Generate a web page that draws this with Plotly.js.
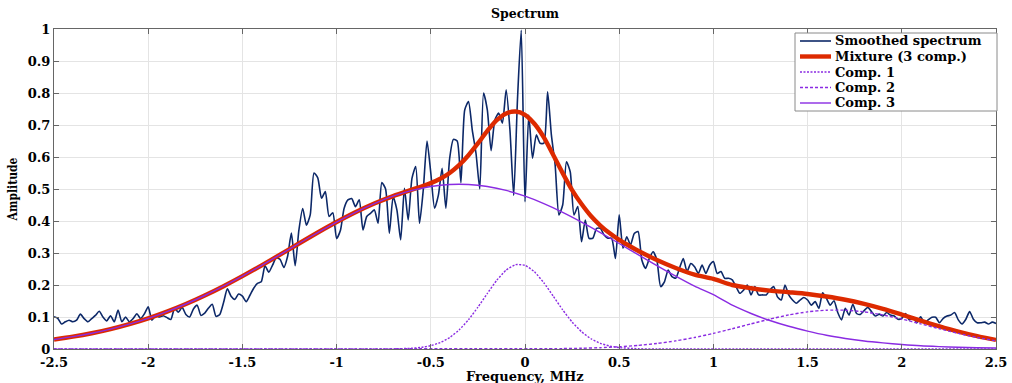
<!DOCTYPE html>
<html>
<head>
<meta charset="utf-8">
<script src="https://cdn.plot.ly/plotly-3.0.1.min.js"></script>
<style>html,body{margin:0;padding:0;background:#fff}#chart{width:1012px;height:383px}</style>
</head>
<body>
<div id="chart"></div>
<script>
// Smoothed spectrum: sampled every 0.02 MHz from -2.5 to 2.5
const specStart = -2.5;
const specStep = 0.02;
const spectrumAmp = [
0.101,0.096,0.078,0.085,0.090,0.085,0.090,0.109,0.095,0.085,
0.095,0.105,0.118,0.100,0.088,0.104,0.085,0.122,0.085,0.100,
0.085,0.095,0.110,0.095,0.110,0.132,0.090,0.105,0.100,0.104,
0.098,0.092,0.127,0.115,0.130,0.108,0.100,0.125,0.137,0.105,
0.112,0.128,0.140,0.102,0.108,0.145,0.188,0.165,0.155,0.172,
0.165,0.148,0.168,0.190,0.205,0.210,0.260,0.240,0.262,0.285,
0.280,0.255,0.290,0.362,0.260,0.372,0.439,0.387,0.419,0.550,
0.535,0.471,0.492,0.414,0.426,0.345,0.370,0.440,0.466,0.470,
0.445,0.466,0.372,0.414,0.424,0.435,0.393,0.520,0.500,0.362,
0.476,0.435,0.341,0.502,0.403,0.533,0.570,0.393,0.497,0.650,
0.550,0.440,0.480,0.565,0.440,0.595,0.655,0.650,0.520,0.747,
0.773,0.685,0.611,0.500,0.800,0.747,0.620,0.716,0.737,0.706,
0.810,0.685,0.480,0.778,0.996,0.460,0.731,0.596,0.669,0.643,
0.643,0.804,0.669,0.575,0.419,0.450,0.585,0.554,0.419,0.445,
0.335,0.403,0.346,0.346,0.377,0.377,0.356,0.346,0.346,0.283,
0.419,0.315,0.351,0.325,0.361,0.367,0.278,0.252,0.283,0.304,
0.278,0.195,0.210,0.247,0.226,0.221,0.252,0.283,0.242,0.267,
0.257,0.236,0.262,0.236,0.262,0.273,0.236,0.242,0.221,0.221,
0.216,0.195,0.174,0.184,0.200,0.169,0.195,0.169,0.169,0.169,
0.184,0.195,0.163,0.153,0.200,0.169,0.153,0.143,0.153,0.161,
0.153,0.137,0.148,0.127,0.176,0.158,0.137,0.151,0.114,0.091,
0.127,0.106,0.140,0.111,0.108,0.120,0.130,0.116,0.103,0.109,
0.103,0.114,0.106,0.103,0.093,0.096,0.111,0.091,0.101,0.082,
0.101,0.082,0.091,0.099,0.099,0.082,0.096,0.103,0.106,0.114,
0.091,0.078,0.093,0.117,0.093,0.082,0.082,0.084,0.078,0.084,
0.080
];
const spectrumFreq = spectrumAmp.map((_, i) => +(specStart + i * specStep).toFixed(2));

// Mixture (3 components)
const mixFreq = [
-2.5,-2.4,-2.3,-2.2,-2.1,-2.0,-1.9,-1.8,-1.7,-1.6,-1.5,-1.4,-1.3,-1.2,-1.1,-1.0,-0.9,-0.8,-0.7,-0.6,
-0.55,-0.5,-0.45,-0.4,-0.35,-0.3,-0.25,-0.2,-0.15,-0.1,-0.05,0,0.05,0.1,0.15,0.2,0.25,0.3,0.35,0.4,0.45,0.5,0.55,
0.6,0.7,0.8,0.9,1.0,1.1,1.2,1.3,1.4,1.5,1.6,1.7,1.8,1.9,2.0,2.1,2.2,2.3,2.4,2.5
];
const mixAmp = [
0.0297,0.0385,0.0492,0.0623,0.0778,0.0959,0.1169,0.1406,0.1672,0.1963,0.2276,0.2607,0.2950,0.3297,0.3640,0.3968,0.4273,0.4545,0.4779,0.4978,
0.5075,0.5184,0.5319,0.5501,0.5744,0.6056,0.6425,0.6816,0.7150,0.7360,0.7420,0.7320,0.7040,0.6615,0.6065,0.5497,0.4967,0.4531,0.4157,0.3859,0.3615,0.3410,0.3234,
0.3070,0.2780,0.2530,0.2323,0.2190,0.2000,0.1900,0.1825,0.1775,0.1720,0.1640,0.1540,0.1410,0.1255,0.1075,0.0886,0.0708,0.0543,0.0400,0.0284
];

// Comp. 1
const comp1Freq = [-2.5,-0.8,-0.7,-0.6,-0.55,-0.5,-0.45,-0.4,-0.35,-0.3,-0.25,-0.2,-0.15,-0.1,-0.05,0,0.05,0.1,0.15,0.2,0.25,0.3,0.35,0.4,0.45,0.5,0.6,0.7,2.5];
const comp1Amp  = [0,0.0001,0.0004,0.0023,0.0051,0.0105,0.0201,0.0359,0.0594,0.0914,0.1307,0.1737,0.2147,0.2467,0.2635,0.2615,0.2413,0.2070,0.1651,0.1224,0.0843,0.0540,0.0321,0.0178,0.0092,0.0044,0.0008,0.0001,0];

// Comp. 2
const comp2Freq = [-2.5,0.2,0.3,0.4,0.5,0.6,0.7,0.8,0.9,1.0,1.1,1.2,1.3,1.4,1.5,1.6,1.7,1.8,1.9,2.0,2.1,2.2,2.3,2.4,2.5];
const comp2Amp  = [0,0.0013,0.0023,0.0041,0.0069,0.0112,0.0172,0.0254,0.0360,0.0488,0.0633,0.0786,0.0935,0.1065,0.1162,0.1213,0.1213,0.1162,0.1065,0.0935,0.0786,0.0633,0.0488,0.0360,0.0254];

// Comp. 3
const comp3Freq = [-2.5,-2.4,-2.3,-2.2,-2.1,-2.0,-1.9,-1.8,-1.7,-1.6,-1.5,-1.4,-1.3,-1.2,-1.1,-1.0,-0.9,-0.8,-0.7,-0.6,-0.5,-0.4,-0.3,-0.2,-0.1,0,0.1,0.2,0.3,0.4,0.5,0.6,0.7,0.8,0.9,1.0,1.1,1.2,1.3,1.4,1.5,1.6,1.7,1.8,1.9,2.0,2.1,2.2,2.3,2.4,2.5];
const comp3Amp  = [
0.0297,0.0385,0.0492,0.0623,0.0778,0.0959,0.1169,0.1406,0.1672,0.1963,
0.2276,0.2607,0.2950,0.3297,0.3640,0.3968,0.4273,0.4545,0.4775,0.4955,
0.5079,0.5142,0.5142,0.5079,0.4955,0.4775,0.4545,0.4273,0.3968,0.3640,
0.3297,0.2950,0.2607,0.2276,0.1963,0.1700,0.1370,0.1110,0.0890,0.0710,
0.0560,0.0430,0.0330,0.0250,0.0190,0.0140,0.0100,0.0075,0.0055,0.0040,
0.0030
];

const xTickVals = [-2.5,-2,-1.5,-1,-0.5,0,0.5,1,1.5,2,2.5];
const xTickText = ['-2.5','-2','-1.5','-1','-0.5','0','0.5','1','1.5','2','2.5'];
const yTickVals = [0,0.1,0.2,0.3,0.4,0.5,0.6,0.7,0.8,0.9,1];
const yTickText = ['0','0.1','0.2','0.3','0.4','0.5','0.6','0.7','0.8','0.9','1'];

const seriesNames = ['Smoothed spectrum', 'Mixture (3 comp.)', 'Comp. 1', 'Comp. 2', 'Comp. 3'];

const serif = 'DejaVu Serif, Liberation Serif, serif';
const purple = '#8a2be2';
const seriesStyles = [
  {color: '#0c2868', width: 1.6, shape: 'spline', smoothing: 0.6},
  {color: '#dd2a00', width: 4.4, shape: 'spline', smoothing: 0.8},
  {color: purple, width: 1.4, dash: '2px,1.5px', shape: 'spline', smoothing: 0.5},
  {color: purple, width: 1.4, dash: '3px,2px', shape: 'spline', smoothing: 0.5},
  {color: purple, width: 1.4, shape: 'spline', smoothing: 0.8}
];
const seriesX = [spectrumFreq, mixFreq, comp1Freq, comp2Freq, comp3Freq];
const seriesY = [spectrumAmp, mixAmp, comp1Amp, comp2Amp, comp3Amp];

const traces = seriesNames.map((name, k) => ({
  x: seriesX[k], y: seriesY[k], type: 'scatter', mode: 'lines', name: name,
  line: seriesStyles[k], showlegend: false
}));

// Plot-area geometry (for the hand-built legend, in paper fractions)
const PL = 54, PR = 996, PT = 29, PB = 349;
const px2x = p => (p - PL) / (PR - PL);
const py2y = p => (PB - p) / (PB - PT);

const legendRows = [41, 56.5, 72, 87.5, 103];
const shapes = [{
  type: 'rect', xref: 'paper', yref: 'paper',
  x0: px2x(795), x1: px2x(997), y0: py2y(111), y1: py2y(33),
  fillcolor: '#fff', line: {color: '#8a8a8a', width: 1}, layer: 'above'
}];
const annotations = [];
seriesNames.forEach((name, k) => {
  const st = seriesStyles[k];
  shapes.push({
    type: 'line', xref: 'paper', yref: 'paper',
    x0: px2x(800), x1: px2x(831), y0: py2y(legendRows[k]), y1: py2y(legendRows[k]),
    line: {color: st.color, width: st.width, dash: st.dash || 'solid'}, layer: 'above'
  });
  annotations.push({
    xref: 'paper', yref: 'paper', x: px2x(833), y: py2y(legendRows[k]),
    xanchor: 'left', yanchor: 'middle', showarrow: false, text: name,
    font: {family: serif, size: 13, color: '#000', weight: 'bold'}
  });
});
// x-axis title placed just below the tick labels
annotations.push({
  xref: 'paper', yref: 'paper', x: 0.5, y: py2y(376), xanchor: 'center', yanchor: 'middle',
  showarrow: false, text: 'Frequency, MHz', borderpad: 0,
  font: {family: serif, size: 13, color: '#000', weight: 'bold'}
});

const axisCommon = {
  showline: true, linecolor: '#666', linewidth: 1, mirror: 'ticks',
  ticks: 'inside', ticklen: 5, tickcolor: '#666', tickwidth: 1,
  showgrid: true, gridcolor: '#e4e4e4', gridwidth: 1, zeroline: false,
  tickfont: {family: serif, size: 13, color: '#000', weight: 'bold'}
};

const layout = {
  width: 1012, height: 383,
  margin: {l: 54, r: 16, t: 29, b: 34},
  paper_bgcolor: '#fff', plot_bgcolor: '#fff',
  showlegend: false,
  title: {text: 'Spectrum', font: {family: serif, size: 12.5, color: '#000', weight: 'bold'},
          x: 0.5, xref: 'paper', xanchor: 'center', y: 1 - 14/383, yref: 'container', yanchor: 'middle'},
  xaxis: Object.assign({}, axisCommon, {
    range: [-2.5, 2.5], tickvals: xTickVals, ticktext: xTickText, ticklabelstandoff: 1
  }),
  yaxis: Object.assign({}, axisCommon, {
    range: [0, 1], tickvals: yTickVals, ticktext: yTickText,
    title: {text: 'Amplitude', font: {family: 'DejaVu Serif Condensed, DejaVu Serif, serif', size: 12, color: '#000', weight: 'bold'}, standoff: 7}
  }),
  shapes: shapes,
  annotations: annotations
};

Plotly.newPlot('chart', traces, layout, {displayModeBar: false, staticPlot: true});
</script>
</body>
</html>
